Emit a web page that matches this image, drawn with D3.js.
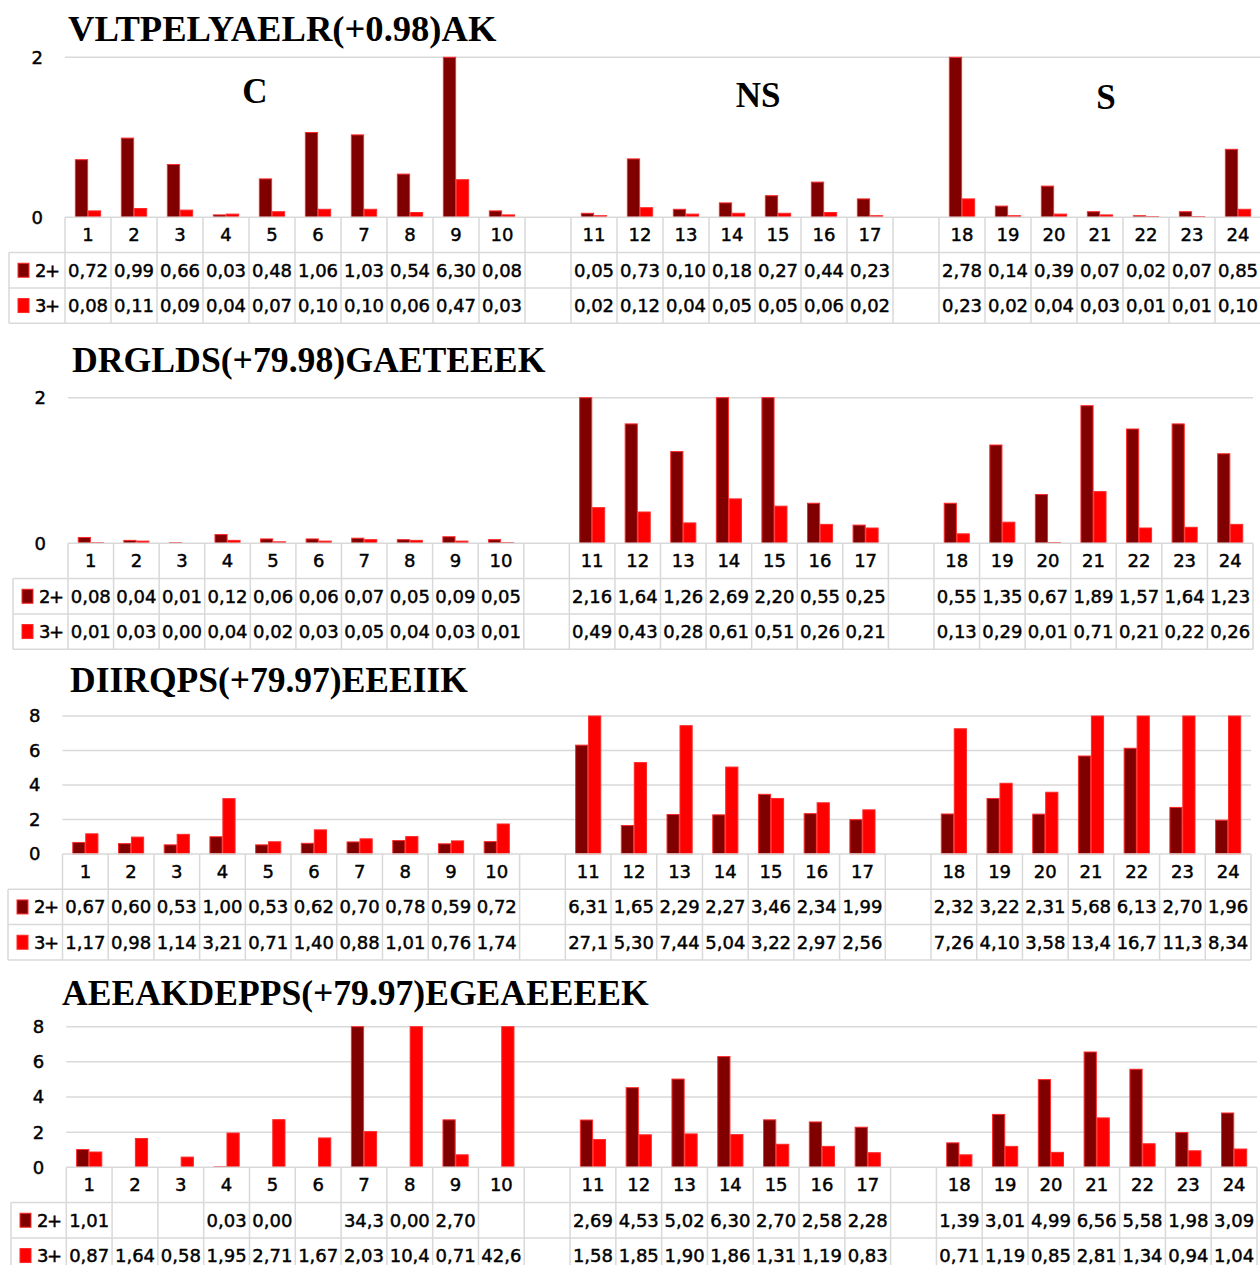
<!DOCTYPE html>
<html><head><meta charset="utf-8">
<script src="https://cdn.jsdelivr.net/npm/d3@7"></script>
<style>body{margin:0;background:#fff}svg{display:block}</style>
</head><body><svg id="c" width="1260" height="1265"></svg>
<script>
// ---------- data ----------
const categories = ["1","2","3","4","5","6","7","8","9","10","11","12","13","14","15","16","17","18","19","20","21","22","23","24"];
const seriesNames = ["2+","3+"];
const seriesColors = ["#800000","#ff0000"];
const titles = ["VLTPELYAELR(+0.98)AK","DRGLDS(+79.98)GAETEEEK","DIIRQPS(+79.97)EEEIIK","AEEAKDEPPS(+79.97)EGEAEEEEK"];
const groupLabels = ["C","NS","S"];
const yMaxes = [2,2,8,8];
const yTicks = [[0,2],[0,2],[0,2,4,6,8],[0,2,4,6,8]];

const p1_2plus = [0.72,0.99,0.66,0.03,0.48,1.06,1.03,0.54,6.30,0.08, 0.05,0.73,0.10,0.18,0.27,0.44,0.23, 2.78,0.14,0.39,0.07,0.02,0.07,0.85];
const p1_3plus = [0.08,0.11,0.09,0.04,0.07,0.10,0.10,0.06,0.47,0.03, 0.02,0.12,0.04,0.05,0.05,0.06,0.02, 0.23,0.02,0.04,0.03,0.01,0.01,0.10];
const p2_2plus = [0.08,0.04,0.01,0.12,0.06,0.06,0.07,0.05,0.09,0.05, 2.16,1.64,1.26,2.69,2.20,0.55,0.25, 0.55,1.35,0.67,1.89,1.57,1.64,1.23];
const p2_3plus = [0.01,0.03,0.00,0.04,0.02,0.03,0.05,0.04,0.03,0.01, 0.49,0.43,0.28,0.61,0.51,0.26,0.21, 0.13,0.29,0.01,0.71,0.21,0.22,0.26];
const p3_2plus = [0.67,0.60,0.53,1.00,0.53,0.62,0.70,0.78,0.59,0.72, 6.31,1.65,2.29,2.27,3.46,2.34,1.99, 2.32,3.22,2.31,5.68,6.13,2.70,1.96];
const p3_3plus = [1.17,0.98,1.14,3.21,0.71,1.40,0.88,1.01,0.76,1.74, 27.1,5.30,7.44,5.04,3.22,2.97,2.56, 7.26,4.10,3.58,13.4,16.7,11.3,8.34];
const p4_2plus = [1.01,null,null,0.03,0.00,null,34.3,0.00,2.70,null, 2.69,4.53,5.02,6.30,2.70,2.58,2.28, 1.39,3.01,4.99,6.56,5.58,1.98,3.09];
const p4_3plus = [0.87,1.64,0.58,1.95,2.71,1.67,2.03,10.4,0.71,42.6, 1.58,1.85,1.90,1.86,1.31,1.19,0.83, 0.71,1.19,0.85,2.81,1.34,0.94,1.04];
const panelSeries = [[p1_2plus,p1_3plus],[p2_2plus,p2_3plus],[p3_2plus,p3_3plus],[p4_2plus,p4_3plus]];

// ---------- layout ----------
const layouts = [
  {left:65,  right:1261, top:57.3,  base:217.3,  tableLeft:9,  titleX:68, titleY:41,   titleSize:36.6},
  {left:68,  right:1253, top:397.7, base:543.3,  tableLeft:13, titleX:72, titleY:372,  titleSize:35.7},
  {left:62.5,right:1251, top:716,   base:854,    tableLeft:8,  titleX:70, titleY:692,  titleSize:35.5},
  {left:66.3,right:1257, top:1026.7,base:1167.3, tableLeft:11, titleX:62, titleY:1005, titleSize:35.6}
];
const groupLabelPos = [{x:255,y:103},{x:758,y:107},{x:1106,y:109}];
const rowH = 35.3;
const gridColor = "#d9d9d9";
const numFont = "'DejaVu Sans', sans-serif";
const slotOf = i => i < 10 ? i : (i < 17 ? i + 1 : i + 2);
const fmt = v => v == null ? "" : (v >= 10 ? v.toFixed(1) : v.toFixed(2)).replace(".", ",");

const svg = d3.select("#c");

layouts.forEach((L, p) => {
  const g = svg.append("g");
  const x = d3.scaleBand().domain(d3.range(26)).range([L.left, L.right]).padding(0);
  const w = x.bandwidth();
  const x1 = d3.scaleBand().domain(seriesNames).range([w*0.225, w*0.775]).paddingInner(0.06);
  const y = d3.scaleLinear().domain([0, yMaxes[p]]).range([L.base, L.top]);

  // title
  g.append("text").attr("x", L.titleX).attr("y", L.titleY)
    .attr("font-family", "'Liberation Serif', 'Times New Roman', serif")
    .attr("font-weight", "bold").attr("font-size", L.titleSize).attr("fill", "#000")
    .text(titles[p]);

  // gridlines
  g.selectAll("line.grid").data(yTicks[p].filter(t => t > 0)).join("line")
    .attr("x1", L.left).attr("x2", L.right)
    .attr("y1", d => y(d)).attr("y2", d => y(d))
    .attr("stroke", gridColor).attr("stroke-width", 1.5);

  // y tick labels
  g.selectAll("text.tick").data(yTicks[p]).join("text")
    .attr("x", L.left - 22).attr("y", d => y(d)).attr("dy", "0.36em")
    .attr("text-anchor", "end").attr("font-family", numFont).attr("font-size", 18)
    .attr("fill", "#000").attr("stroke", "#000").attr("stroke-width", 0.45)
    .text(d => d);

  // bars
  seriesNames.forEach((s, k) => {
    const vals = panelSeries[p][k];
    const bars = vals.map((v, i) => ({v, i})).filter(d => d.v != null);
    g.selectAll("rect.s" + k).data(bars).join("rect")
      .attr("x", d => x(slotOf(d.i)) + x1(s))
      .attr("width", x1.bandwidth())
      .attr("y", d => y(Math.min(d.v, yMaxes[p])))
      .attr("height", d => L.base - y(Math.min(d.v, yMaxes[p])))
      .attr("fill", seriesColors[k])
      .attr("stroke", "#ff2a2a").attr("stroke-width", 1);
  });

  // table lines
  const tb = L.base, tBot = L.base + 3*rowH;
  const hl = [[L.left, tb], [L.tableLeft, tb + rowH], [L.tableLeft, tb + 2*rowH], [L.tableLeft, tBot]];
  hl.forEach(([x0, yy]) => g.append("line").attr("x1", x0).attr("x2", L.right).attr("y1", yy).attr("y2", yy)
    .attr("stroke", gridColor).attr("stroke-width", 1.5));
  g.append("line").attr("x1", L.tableLeft).attr("x2", L.tableLeft).attr("y1", tb + rowH).attr("y2", tBot)
    .attr("stroke", gridColor).attr("stroke-width", 1.5);
  g.selectAll("line.vcell").data(d3.range(27)).join("line")
    .attr("x1", d => L.left + d*w).attr("x2", d => L.left + d*w)
    .attr("y1", tb).attr("y2", tBot)
    .attr("stroke", gridColor).attr("stroke-width", 1.5);

  // category labels
  g.selectAll("text.cat").data(categories).join("text")
    .attr("x", (d, i) => x(slotOf(i)) + w/2).attr("y", tb + rowH/2).attr("dy", "0.36em")
    .attr("text-anchor", "middle").attr("font-family", numFont).attr("font-size", 18)
    .attr("fill", "#000").attr("stroke", "#000").attr("stroke-width", 0.45)
    .text(d => d);

  // value rows + legend keys
  seriesNames.forEach((s, k) => {
    const ry = tb + (k + 1)*rowH + rowH/2;
    g.append("rect").attr("x", L.tableLeft + 9).attr("y", ry - 7).attr("width", 11).attr("height", 14)
      .attr("fill", seriesColors[k]).attr("stroke", "#ff2a2a").attr("stroke-width", 1);
    g.append("text").attr("x", L.tableLeft + 26).attr("y", ry).attr("dy", "0.36em")
      .attr("font-family", numFont).attr("font-size", 18).attr("letter-spacing", -1.5)
      .attr("fill", "#000").attr("stroke", "#000").attr("stroke-width", 0.45).text(s);
    g.selectAll("text.v" + k).data(panelSeries[p][k]).join("text")
      .attr("x", (d, i) => x(slotOf(i)) + w/2).attr("y", ry).attr("dy", "0.36em")
      .attr("text-anchor", "middle").attr("font-family", numFont).attr("font-size", 18)
      .attr("fill", "#000").attr("stroke", "#000").attr("stroke-width", 0.45)
      .text(d => fmt(d));
  });

  // group labels (first panel only)
  if (p === 0) {
    g.selectAll("text.grp").data(groupLabels).join("text")
      .attr("x", (d, i) => groupLabelPos[i].x).attr("y", (d, i) => groupLabelPos[i].y)
      .attr("text-anchor", "middle")
      .attr("font-family", "'Liberation Serif', 'Times New Roman', serif")
      .attr("font-weight", "bold").attr("font-size", 35).attr("fill", "#000")
      .text(d => d);
  }
});
</script></body></html>
